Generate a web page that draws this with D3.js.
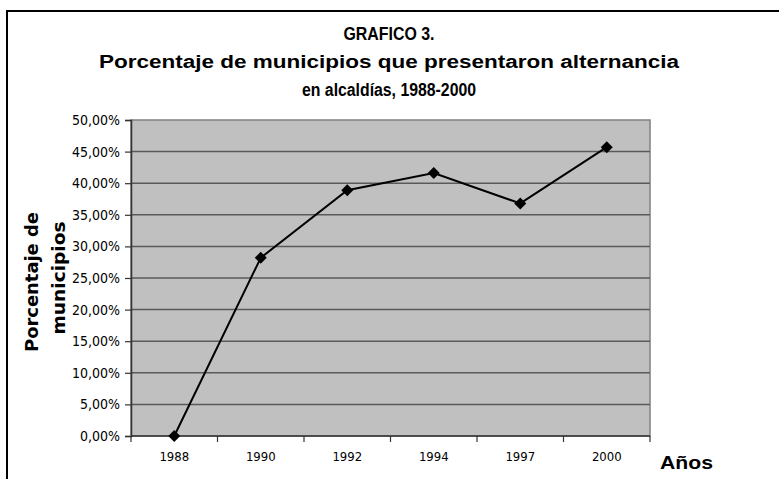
<!DOCTYPE html>
<html>
<head>
<meta charset="utf-8">
<script src="https://cdn.jsdelivr.net/npm/d3@7"></script>
<style>
  html, body { margin: 0; padding: 0; background: #fff; }
  svg { display: block; }
  text { font-family: "Liberation Sans", Arial, sans-serif; fill: #000; }
</style>
</head>
<body>
<div id="chart"></div>
<script>
var years = ["1988", "1990", "1992", "1994", "1997", "2000"];
var values = [0, 28.2, 38.9, 41.6, 36.8, 45.7];
var yTicks = [0, 5, 10, 15, 20, 25, 30, 35, 40, 45, 50];
var titleLines = [
  "GRAFICO 3.",
  "Porcentaje de municipios que presentaron alternancia",
  "en alcaldías, 1988-2000"
];
var yTitleLines = ["Porcentaje de", "municipios"];
var xTitle = "Años";

var W = 779, H = 479;
var plot = {left: 131, top: 120, right: 650, bottom: 436};
var tickFont = "'DejaVu Sans Condensed', 'DejaVu Sans', sans-serif";

var svg = d3.select("#chart").append("svg")
  .attr("width", W)
  .attr("height", H);

// outer frame (runs off the right and bottom edge)
svg.append("rect")
  .attr("x", 7).attr("y", 11)
  .attr("width", W + 20).attr("height", H + 20)
  .attr("fill", "#fff")
  .attr("stroke", "#000")
  .attr("stroke-width", 2);

var x = d3.scaleBand()
  .domain(years)
  .range([plot.left, plot.right])
  .padding(0);

var y = d3.scaleLinear()
  .domain([0, 50])
  .range([plot.bottom, plot.top]);

// plot background
svg.append("rect")
  .attr("x", plot.left).attr("y", plot.top)
  .attr("width", plot.right - plot.left)
  .attr("height", plot.bottom - plot.top)
  .attr("fill", "#c0c0c0")
  .attr("stroke", "#808080")
  .attr("stroke-width", 1.5);

// gridlines
svg.append("g")
  .selectAll("line")
  .data(yTicks.filter(function(d) { return d > 0 && d < 50; }))
  .enter().append("line")
  .attr("x1", plot.left).attr("x2", plot.right)
  .attr("y1", function(d) { return y(d); })
  .attr("y2", function(d) { return y(d); })
  .attr("stroke", "#5a5a5a")
  .attr("stroke-width", 1.5);

// y axis
var fmt = function(d) { return d3.format(".2f")(d).replace(".", ",") + "%"; };
var yAxis = svg.append("g")
  .attr("transform", "translate(" + plot.left + ",0)")
  .call(d3.axisLeft(y).tickValues(yTicks).tickFormat(fmt).tickSize(6).tickPadding(5));
yAxis.select(".domain").attr("stroke", "#333").attr("stroke-width", 1.5);
yAxis.selectAll(".tick line").attr("stroke", "#333").attr("stroke-width", 1.2);
yAxis.selectAll("text")
  .style("font-family", tickFont)
  .style("font-size", "14px")
  .attr("fill", "#000");

// x axis: labels centred in the bands, ticks on band edges
var xAxis = svg.append("g")
  .attr("transform", "translate(0," + plot.bottom + ")")
  .call(d3.axisBottom(x).tickSize(0).tickPadding(16));
xAxis.select(".domain").remove();
xAxis.selectAll("text")
  .style("font-family", tickFont)
  .style("font-size", "13px")
  .attr("fill", "#000");

var edges = years.map(function(d) { return x(d); }).concat([plot.right]);
svg.append("g")
  .selectAll("line")
  .data(edges)
  .enter().append("line")
  .attr("x1", function(d) { return d; }).attr("x2", function(d) { return d; })
  .attr("y1", plot.bottom).attr("y2", plot.bottom + 6)
  .attr("stroke", "#333")
  .attr("stroke-width", 1.2);
svg.append("line")
  .attr("x1", plot.left).attr("x2", plot.right)
  .attr("y1", plot.bottom).attr("y2", plot.bottom)
  .attr("stroke", "#333")
  .attr("stroke-width", 1.5);

// data line + markers
var pts = years.map(function(d, i) { return {year: d, value: values[i]}; });
var line = d3.line()
  .x(function(d) { return x(d.year) + x.bandwidth() / 2; })
  .y(function(d) { return y(d.value); });

svg.append("path")
  .datum(pts)
  .attr("d", line)
  .attr("fill", "none")
  .attr("stroke", "#000")
  .attr("stroke-width", 2);

svg.append("g")
  .selectAll("path")
  .data(pts)
  .enter().append("path")
  .attr("d", d3.symbol(d3.symbolSquare, 72))
  .attr("transform", function(d) {
    return "translate(" + (x(d.year) + x.bandwidth() / 2) + "," + y(d.value) + ") rotate(45)";
  })
  .attr("fill", "#000");

// title
var titleY = [40, 68, 96];
var titleW = [91, 580, 174];
svg.append("g")
  .selectAll("text")
  .data(titleLines)
  .enter().append("text")
  .attr("x", 389)
  .attr("y", function(d, i) { return titleY[i]; })
  .attr("text-anchor", "middle")
  .attr("textLength", function(d, i) { return titleW[i]; })
  .attr("lengthAdjust", "spacingAndGlyphs")
  .style("font-family", "'Liberation Sans Narrow', 'Liberation Sans', Arial, sans-serif")
  .style("font-size", "18px")
  .style("font-weight", "bold")
  .text(function(d) { return d; });

// y title (overlaps the tick labels, as in the original)
var yTitleX = [38, 65], yTitleMid = [282, 278], yTitleLen = [140, 113];
svg.append("g")
  .selectAll("text")
  .data(yTitleLines)
  .enter().append("text")
  .attr("transform", function(d, i) {
    return "translate(" + yTitleX[i] + "," + yTitleMid[i] + ") rotate(-90)";
  })
  .attr("text-anchor", "middle")
  .attr("textLength", function(d, i) { return yTitleLen[i]; })
  .attr("lengthAdjust", "spacingAndGlyphs")
  .style("font-family", "'DejaVu Sans', sans-serif")
  .style("font-size", "18px")
  .style("font-weight", "bold")
  .text(function(d) { return d; });

// x title
svg.append("text")
  .attr("x", 660)
  .attr("y", 469)
  .attr("textLength", 53)
  .attr("lengthAdjust", "spacingAndGlyphs")
  .style("font-size", "19px")
  .style("font-weight", "bold")
  .text(xTitle);
</script>
</body>
</html>
